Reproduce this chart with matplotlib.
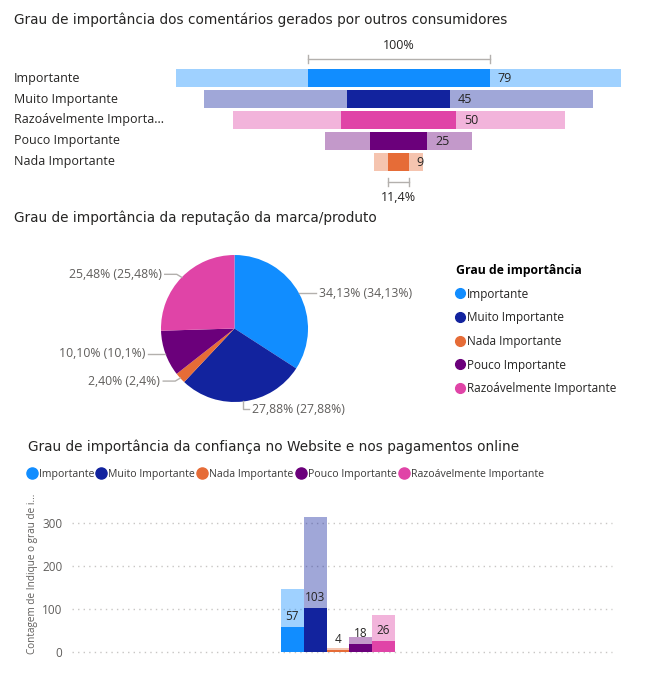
import numpy as np
import matplotlib
matplotlib.use("Agg")
import matplotlib.pyplot as plt
from matplotlib.lines import Line2D
from matplotlib.transforms import blended_transform_factory

# data
funnel_labels = ["Importante", "Muito Importante", "Razoávelmente Importante", "Pouco Importante", "Nada Importante"]
funnel_values = [79, 45, 50, 25, 9]
funnel_totals = [193, 169, 144, 64, 21]
funnel_colors = ["#118DFF", "#12239E", "#E044A7", "#6B007B", "#E66C37"]

pie_labels = ["Importante", "Muito Importante", "Nada Importante", "Pouco Importante", "Razoávelmente Importante"]
pie_values = [34.13, 27.88, 2.40, 10.10, 25.48]
pie_colors = ["#118DFF", "#12239E", "#E66C37", "#6B007B", "#E044A7"]

bar_labels = ["Importante", "Muito Importante", "Nada Importante", "Pouco Importante", "Razoávelmente Importante"]
bar_values = [57, 103, 4, 18, 26]
bar_totals = [147, 315, 9, 35, 86]
bar_colors = ["#118DFF", "#12239E", "#E66C37", "#6B007B", "#E044A7"]
bar_yticks = [0, 100, 200, 300]

W, H = 668, 684
TXT = "#252423"
GRAY = "#605E5C"
BODY = "Open Sans"
TITLE = "DejaVu Sans"

def box(x0, y0, x1, y1):
    return [x0 / W, 1 - y1 / H, (x1 - x0) / W, (y1 - y0) / H]

fig = plt.figure(figsize=(W / 100, H / 100), dpi=100)

def title(x, y, s):
    fig.text(x / W, 1 - y / H, s, fontsize=9.8, color=TXT, family=TITLE, va="center", ha="left")

# ---------- funnel ----------
title(14, 20, "Grau de importância dos comentários gerados por outros consumidores")
ax1 = fig.add_axes(box(170, 67.9, 630, 172.1))
ax1.set_xlim(-99.2, 100.4)
ax1.set_ylim(4.5, -0.5)
ax1.axis("off")
rows = np.arange(len(funnel_values))
v = np.array(funnel_values)
t = np.array(funnel_totals)
ax1.barh(rows, t, left=-t / 2, height=0.863, color=funnel_colors, alpha=0.4, linewidth=0)
ax1.barh(rows, v, left=-v / 2, height=0.863, color=funnel_colors, linewidth=0)
for i in rows:
    ax1.text(v[i] / 2 + 3.3, i + 0.03, str(v[i]), fontsize=9, color=TXT, family=BODY, va="center", ha="left")
trans = blended_transform_factory(fig.transFigure, ax1.transData)
for i, lab in enumerate(funnel_labels):
    if len(lab) > 22:
        lab = lab[:21] + "..."
    ax1.text(14 / W, i, lab, transform=trans, fontsize=9, color=TXT, family=BODY, va="center", ha="left")

# brackets
def bracket(y, w, s, ty):
    ax1.plot([-w / 2, w / 2], [y, y], color="#B3B0AD", lw=1, clip_on=False)
    for xx in (-w / 2, w / 2):
        ax1.plot([xx, xx], [y - 0.2, y + 0.2], color="#B3B0AD", lw=1, clip_on=False)
    ax1.text(0, ty, s, ha="center", va="center", fontsize=9, color=TXT, family=BODY)

bracket(-0.926, v[0], "100%", -1.58)
pct = v[-1] / v[0] * 100
bracket(4.96, v[-1], ("%.1f%%" % pct).replace(".", ","), 5.7)

# ---------- pie ----------
title(14, 218, "Grau de importância da reputação da marca/produto")
cx, cy = 234.5, 328.5
px0, py0, px1, py1 = 30, 235, 440, 425
ax2 = fig.add_axes(box(px0, py0, px1, py1))
R = 73.5
wedges, _ = ax2.pie(pie_values, colors=pie_colors, radius=R, startangle=90,
                    counterclock=False, wedgeprops=dict(linewidth=0))
ax2.set_aspect("auto")
ax2.set_xlim(px0 - cx, px1 - cx)
ax2.set_ylim(-(py1 - cy), cy - py0)
ax2.axis("off")
for w, val in zip(wedges, pie_values):
    th = np.deg2rad((w.theta1 + w.theta2) / 2)
    ax_, ay_ = R * np.cos(th), R * np.sin(th)
    s = ("%.2f%%" % val).replace(".", ",") + " (" + ("%g%%" % val).replace(".", ",") + ")"
    if abs(np.cos(th)) < 0.3:
        xs = [ax_, ax_, ax_ + 6]
        ys = [ay_, ay_ - 8, ay_ - 8]
        ax2.plot(xs, ys, color="#B3B0AD", lw=1)
        ax2.text(ax_ + 9, ay_ - 8, s, fontsize=8.8, color=GRAY, family=BODY, va="center", ha="left")
    else:
        d = np.sign(np.cos(th))
        # small vertical kink, as in the source layout
        dy = 3 * np.sign(np.sin(th)) if abs(np.sin(th)) > 0.6 else 0
        ax2.plot([ax_, ax_ + d * 5, ax_ + d * 17], [ay_, ay_ + dy, ay_ + dy], color="#B3B0AD", lw=1)
        ax2.text(ax_ + d * 20, ay_ + dy, s, fontsize=8.8, color=GRAY, family=BODY, va="center",
                 ha="left" if d > 0 else "right")

handles = [Line2D([], [], marker="o", ls="", color=c, markersize=7) for c in pie_colors]
leg = fig.legend(handles, pie_labels, loc="upper left", bbox_to_anchor=(456 / W, 1 - 264 / H),
                 frameon=False, title="Grau de importância", alignment="left",
                 title_fontproperties={"weight": "bold", "size": 8.8, "family": BODY},
                 prop={"size": 8.5, "family": BODY}, handlelength=0.7, handletextpad=0.25,
                 labelspacing=0.9, borderpad=0, borderaxespad=0)
for tx in leg.get_texts():
    tx.set_color(TXT)

# ---------- bars ----------
title(28, 447, "Grau de importância da confiança no Website e nos pagamentos online")
handles = [Line2D([], [], marker="o", ls="", color=c, markersize=8) for c in bar_colors]
leg3 = fig.legend(handles, bar_labels, loc="center left", bbox_to_anchor=(28 / W, 1 - 474 / H), ncol=5,
                  frameon=False, prop={"size": 7.6, "family": BODY}, handlelength=0.7, handletextpad=0.3,
                  columnspacing=0.35, borderpad=0, borderaxespad=0)
for tx in leg3.get_texts():
    tx.set_color("#3B3A39")

ax3 = fig.add_axes(box(72, 509, 612, 651.7))
ax3.set_xlim(-11.67, 12.02)
ax3.set_ylim(0, 333)
pos = np.arange(len(bar_values)) - 2
ax3.bar(pos, bar_totals, width=1, color=bar_colors, alpha=0.4, linewidth=0, zorder=2)
ax3.bar(pos, bar_values, width=1, color=bar_colors, linewidth=0, zorder=3)
for p, val in zip(pos, bar_values):
    ax3.annotate(str(val), (p, val), xytext=(0, 7.6), textcoords="offset points",
                 ha="center", va="center", fontsize=8.5, color=TXT, family=BODY, zorder=4)
ax3.set_yticks(bar_yticks)
ax3.set_xticks([])
ax3.tick_params(axis="y", length=0, pad=7, labelsize=8.5, labelcolor=GRAY)
for lab in ax3.get_yticklabels():
    lab.set_family(BODY)
ax3.grid(axis="y", color="#C8C6C4", linestyle=(0, (1, 3)), lw=1, zorder=0)
for sp in ax3.spines.values():
    sp.set_visible(False)
for yl in ax3.get_ygridlines():
    yl.set_clip_on(False)
fig.text(33 / W, 1 - 574 / H, "Contagem de Indique o grau de i...", rotation=90, fontsize=7.2,
         color=GRAY, family=BODY, ha="center", va="center")

fig.savefig("out.png", dpi=100)
